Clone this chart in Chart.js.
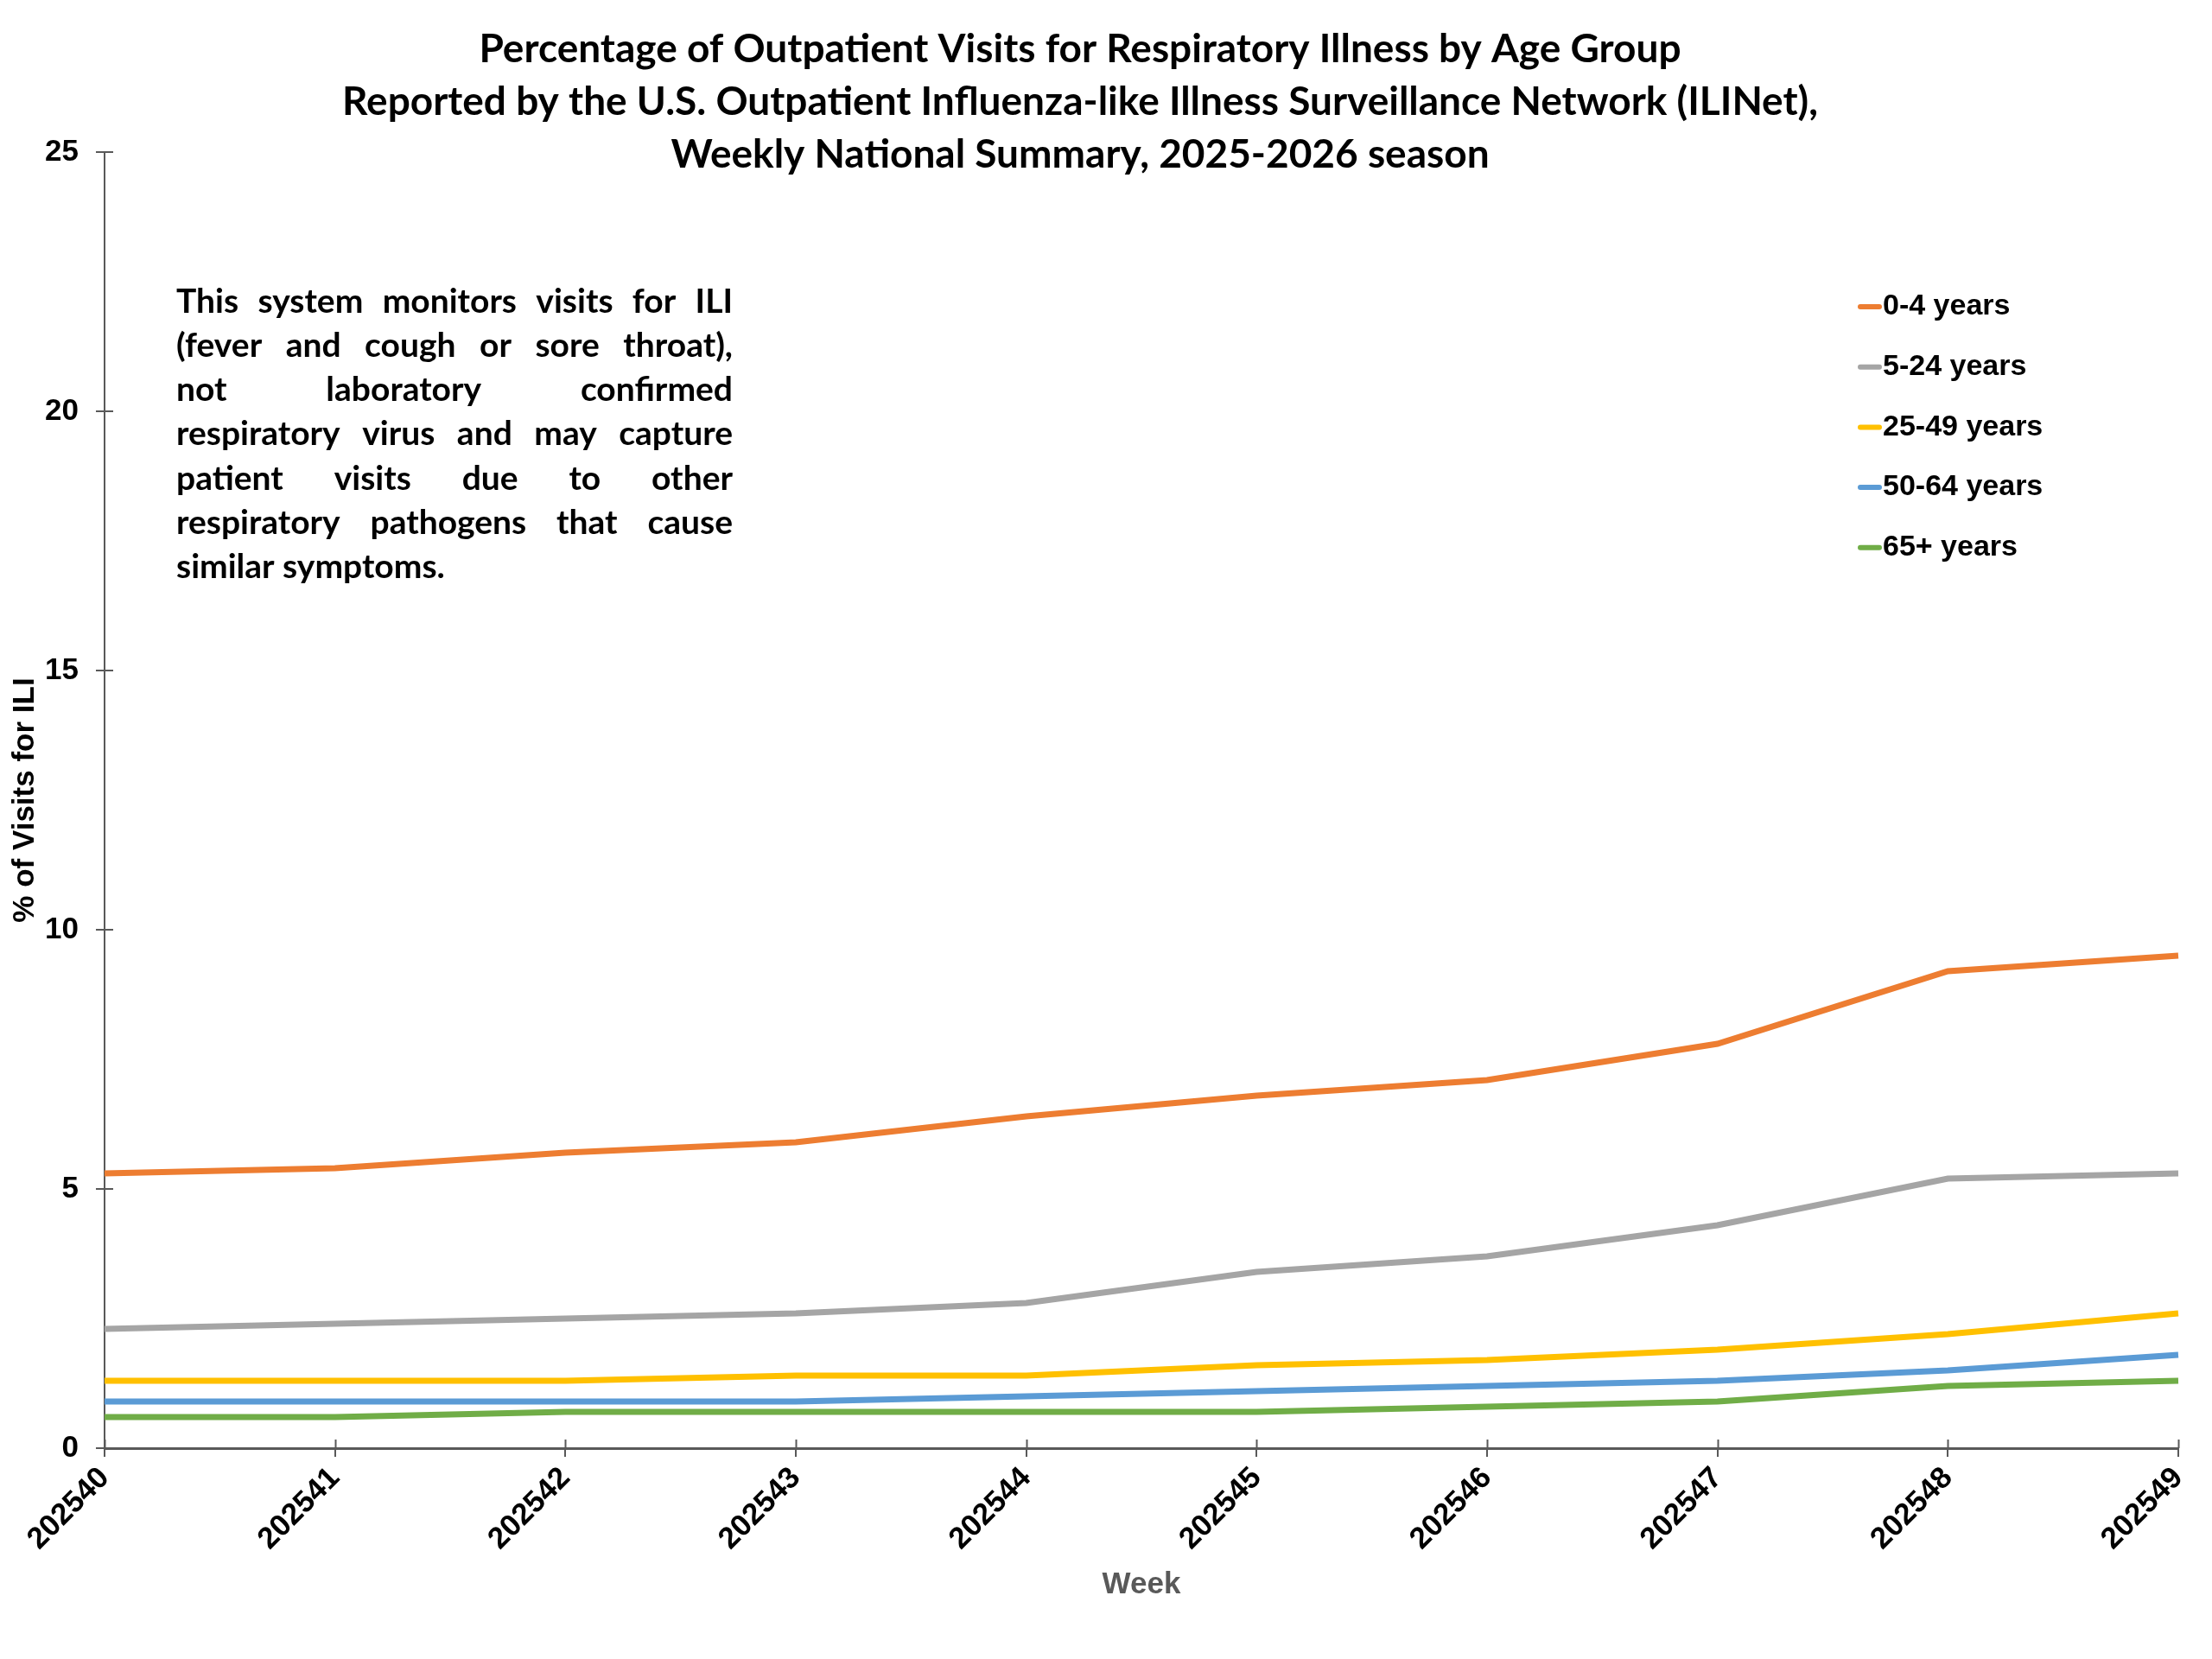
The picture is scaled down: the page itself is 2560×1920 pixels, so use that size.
<!DOCTYPE html>
<html lang="en">
<head>
<meta charset="UTF-8">
<title>ILINet Outpatient Visits by Age Group</title>
<script src="https://cdn.jsdelivr.net/npm/chart.js"></script>
<style>
  body { margin: 0; background: #fff; }
  .wrap { width: 2560px; height: 1920px; position: relative; }
</style>
</head>
<body>
<div class="wrap"><canvas id="iliChart"></canvas></div>
<script>
// data
const weeks = ['202540', '202541', '202542', '202543', '202544', '202545', '202546', '202547', '202548', '202549'];
const age0to4   = [5.3, 5.4, 5.7, 5.9, 6.4, 6.8, 7.1, 7.8, 9.2, 9.5];
const age5to24  = [2.3, 2.4, 2.5, 2.6, 2.8, 3.4, 3.7, 4.3, 5.2, 5.3];
const age25to49 = [1.3, 1.3, 1.3, 1.4, 1.4, 1.6, 1.7, 1.9, 2.2, 2.6];
const age50to64 = [0.9, 0.9, 0.9, 0.9, 1.0, 1.1, 1.2, 1.3, 1.5, 1.8];
const age65plus = [0.6, 0.6, 0.7, 0.7, 0.7, 0.7, 0.8, 0.9, 1.2, 1.3];
const seriesLabels = ['0-4 years', '5-24 years', '25-49 years', '50-64 years', '65+ years'];
const yMin = 0, yMax = 25, yStep = 5;

const titleLines = [
    'Percentage of Outpatient Visits for Respiratory Illness by Age Group',
    'Reported by the U.S. Outpatient Influenza-like Illness Surveillance Network (ILINet),',
    'Weekly National Summary, 2025-2026 season'
];
const noteLines = [
    'This system monitors visits for ILI',
    '(fever and cough or sore throat),',
    'not laboratory confirmed',
    'respiratory virus and may capture',
    'patient visits due to other',
    'respiratory pathogens that cause',
    'similar symptoms.'
];

const colors = ['#ED7D31', '#A5A5A5', '#FFC000', '#5B9BD5', '#70AD47'];
const axisColor = '#595959';
const arialBold = { family: "'Liberation Sans', Arial, sans-serif", weight: 'bold', size: 35 };

// title, note, legend and the inner half of the tick marks
const overlay = {
    id: 'overlay',
    afterDraw(chart) {
        const ctx = chart.ctx;
        const xs = chart.scales.x, ys = chart.scales.y;
        ctx.save();

        ctx.strokeStyle = axisColor;
        ctx.lineWidth = 2;
        ctx.beginPath();
        xs.ticks.forEach((t, i) => {
            const x = Math.round(xs.getPixelForTick(i)) + 0.5;
            ctx.moveTo(x, xs.top);
            ctx.lineTo(x, xs.top - 10);
        });
        ys.ticks.forEach((t, i) => {
            const y = Math.round(ys.getPixelForTick(i));
            ctx.moveTo(ys.right, y);
            ctx.lineTo(ys.right + 10, y);
        });
        ctx.stroke();

        ctx.fillStyle = '#000';
        ctx.textBaseline = 'middle';
        ctx.textAlign = 'center';
        ctx.font = 'bold 46px Lato, sans-serif';
        titleLines.forEach((line, i) => ctx.fillText(line, 1250, 57 + i * 61));

        // justified note block
        ctx.textAlign = 'left';
        ctx.font = 'bold 39px Lato, sans-serif';
        const left = 204, width = 644;
        noteLines.forEach((line, i) => {
            const y = 349 + i * 51.3;
            const words = line.split(' ');
            if (i === noteLines.length - 1 || words.length < 2) {
                ctx.fillText(line, left, y);
                return;
            }
            const inked = words.reduce((s, w) => s + ctx.measureText(w).width, 0);
            const gap = Math.max(6, (width - inked) / (words.length - 1));
            let x = left;
            words.forEach(w => {
                ctx.fillText(w, x, y);
                x += ctx.measureText(w).width + gap;
            });
        });

        // legend
        ctx.font = "bold 34px 'Liberation Sans', Arial, sans-serif";
        ctx.lineCap = 'round';
        chart.data.datasets.forEach((ds, i) => {
            const y = 355 + i * 69.7;
            ctx.strokeStyle = ds.borderColor;
            ctx.lineWidth = 6;
            ctx.beginPath();
            ctx.moveTo(2153, y);
            ctx.lineTo(2175, y);
            ctx.stroke();
            ctx.fillStyle = '#000';
            ctx.fillText(ds.label, 2179, y);
        });
        ctx.restore();
    }
};

const seriesData = [age0to4, age5to24, age25to49, age50to64, age65plus];

new Chart(document.getElementById('iliChart'), {
    type: 'line',
    data: {
        labels: weeks,
        datasets: seriesData.map((values, i) => ({
            label: seriesLabels[i],
            data: values,
            borderColor: colors[i],
            backgroundColor: colors[i],
            borderWidth: 7,
            pointRadius: 0,
            tension: 0,
            fill: false
        }))
    },
    options: {
        responsive: true,
        maintainAspectRatio: false,
        devicePixelRatio: 1,
        animation: false,
        layout: { padding: { top: 176, right: 39, left: 0, bottom: 0 } },
        plugins: {
            legend: { display: false },
            title: { display: false },
            tooltip: { enabled: false }
        },
        scales: {
            x: {
                grid: { drawOnChartArea: false, tickLength: 10, color: axisColor, lineWidth: 2 },
                border: { color: axisColor, width: 3 },
                ticks: { color: '#000', font: arialBold, minRotation: 45, maxRotation: 45, autoSkip: false, padding: 4 },
                title: { display: true, text: 'Week', color: '#595959', font: { ...arialBold, size: 35 }, padding: { top: 0, bottom: 65 } },
                afterFit(scale) { scale.height = 244; }
            },
            y: {
                min: yMin,
                max: yMax,
                grid: { drawOnChartArea: false, tickLength: 10, color: axisColor, lineWidth: 2 },
                border: { color: axisColor, width: 2 },
                ticks: { stepSize: yStep, color: '#000', font: arialBold, padding: 20 },
                title: { display: true, text: '% of Visits for ILI', color: '#000', font: { ...arialBold, size: 35 }, padding: { top: 8, bottom: 0 } },
                afterFit(scale) { scale.width = 121; }
            }
        }
    },
    plugins: [overlay]
});
</script>
</body>
</html>
